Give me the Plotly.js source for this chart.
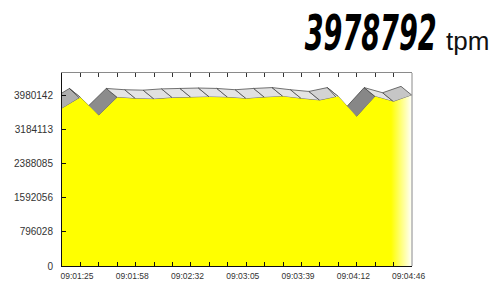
<!DOCTYPE html>
<html>
<head>
<meta charset="utf-8">
<script src="https://cdn.plot.ly/plotly-3.0.1.min.js"></script>
<style>
  html, body { margin: 0; padding: 0; background: #ffffff; }
  #chart { width: 504px; height: 283px; }
</style>
</head>
<body>
<div id="chart"></div>
<script>
// ---- data ----
const tickLabels = ['09:01:25', '09:01:58', '09:02:32', '09:03:05', '09:03:39', '09:04:12', '09:04:46'];
const tpmValues = [3670000, 3930000, 3510000, 3930000, 3900000, 3890000, 3920000, 3930000, 3940000, 3930000,
                   3900000, 3930000, 3950000, 3900000, 3860000, 3950000, 3480000, 3950000, 3830000, 3978792];
const yTicks = [0, 796028, 1592056, 2388085, 3184113, 3980142];
const currentTpm = '3978792';
const unitLabel = 'tpm';

// ---- layout geometry ----
const W = 504, H = 283;
const M = {l: 62, r: 92, t: 73, b: 17};
const plotW = W - M.l - M.r, plotH = H - M.t - M.b;
const yMax = 4500000;
const n = tpmValues.length;
const xIdx = tpmValues.map((_, i) => i);
const valPerPx = yMax / plotH;
const idxPerPx = (n - 1) / plotW;

// 3D depth offset of the ribbon (up and to the left)
const DX = -11 * idxPerPx;
const DY = 9 * valPerPx;

const traces = [];
for (let i = 0; i < n - 1; i++) {
  const v0 = tpmValues[i], v1 = tpmValues[i + 1];
  const risePx = (v1 - v0) / valPerPx;
  let g = risePx > 0 ? Math.round(230 - 5 * risePx) : 228;
  g = Math.max(135, Math.min(232, g));
  traces.push({
    x: [i, i + 1, i + 1 + DX, i + DX, i],
    y: [v0, v1, v1 + DY, v0 + DY, v0],
    type: 'scatter', mode: 'lines', fill: 'toself',
    fillcolor: `rgb(${g},${g},${g})`,
    line: {color: '#3a3a3a', width: 0.7},
    hoverinfo: 'skip', showlegend: false
  });
}
traces.push({
  x: xIdx, y: tpmValues,
  type: 'scatter', mode: 'lines', fill: 'tozeroy',
  fillcolor: '#ffff00',
  fillgradient: {type: 'horizontal', start: 0, stop: n - 1,
                 colorscale: [[0, '#ffff00'], [0.94, '#ffff00'], [1, '#ffffff']]},
  line: {width: 0, color: 'rgba(0,0,0,0)'},
  hoverinfo: 'skip', showlegend: false
});
// dummy trace so the top axis is drawn
traces.push({x: [0], y: [0], xaxis: 'x2', yaxis: 'y', mode: 'none', type: 'scatter',
             hoverinfo: 'skip', showlegend: false});

const tickVals = xIdx.slice();
const tickText = xIdx.map(i => (i % 3 === 0 && tickLabels[i / 3] !== undefined) ? tickLabels[i / 3] : '');

const layout = {
  width: W, height: H,
  margin: M,
  paper_bgcolor: '#ffffff', plot_bgcolor: '#ffffff',
  showlegend: false,
  font: {family: 'Liberation Sans, Arial, sans-serif', color: '#333333'},
  xaxis: {
    range: [0, n - 1], showgrid: false, zeroline: false,
    showline: true, linecolor: '#111111', linewidth: 1,
    ticks: 'inside', ticklen: 4, tickcolor: '#111111', tickwidth: 1,
    tickmode: 'array', tickvals: tickVals, ticktext: tickText,
    ticklabelshift: 15, ticklabelstandoff: 2,
    tickfont: {size: 8.5, color: '#333333'}, fixedrange: true
  },
  xaxis2: {
    overlaying: 'x', side: 'top', range: [0, n - 1], showgrid: false, zeroline: false,
    showline: true, linecolor: '#8a8a8a', linewidth: 1,
    ticks: 'inside', ticklen: 4, tickcolor: '#333333', tickwidth: 1,
    tickmode: 'array', tickvals: tickVals.slice(1, n - 1), showticklabels: false
  },
  yaxis: {
    range: [0, yMax], showgrid: false, zeroline: false,
    showline: true, linecolor: '#111111', linewidth: 1,
    ticks: 'inside', ticklen: 4, tickcolor: '#111111',
    tickmode: 'array', tickvals: yTicks, ticktext: yTicks.map(String),
    ticklabelstandoff: 6,
    tickfont: {size: 10, color: '#333333'}, fixedrange: true
  },
  shapes: [{type: 'line', xref: 'paper', yref: 'paper', x0: 1, x1: 1, y0: 0, y1: 1,
            line: {color: '#8a8a8a', width: 1}}],
  annotations: [
    {text: currentTpm, xref: 'paper', yref: 'paper',
     x: (437 - M.l) / plotW, y: (H - M.b - 27) / plotH, xanchor: 'right', yanchor: 'middle',
     showarrow: false,
     font: {family: 'DejaVu Sans Condensed, DejaVu Sans, sans-serif', size: 30,
            color: '#000000', weight: 'bold', style: 'italic'}},
    {text: unitLabel, xref: 'paper', yref: 'paper',
     x: (444 - M.l) / plotW, y: (H - M.b - 41) / plotH, xanchor: 'left', yanchor: 'middle',
     showarrow: false,
     font: {family: 'Liberation Sans, sans-serif', size: 26, color: '#111111'}}
  ]
};

Plotly.newPlot('chart', traces, layout, {staticPlot: true, displayModeBar: false}).then(() => {
  // stretch the big counter to the tall, narrow shape of the reference read-out
  const gs = document.querySelectorAll('.annotation .annotation-text-g');
  if (gs.length) {
    const g = gs[0];
    const t = g.querySelector('text');
    const bb = t.getBBox();
    const targetW = 132, capH = 0.729 * 30, targetH = 36;
    const sx = targetW / bb.width, sy = targetH / capH;
    const rx = bb.x + bb.width, cy = bb.y + bb.height / 2;
    const prev = g.getAttribute('transform') || '';
    g.setAttribute('transform', prev + ` translate(${rx},${cy}) scale(${sx},${sy}) translate(${-rx},${-cy})`);
  }
});
</script>
</body>
</html>
